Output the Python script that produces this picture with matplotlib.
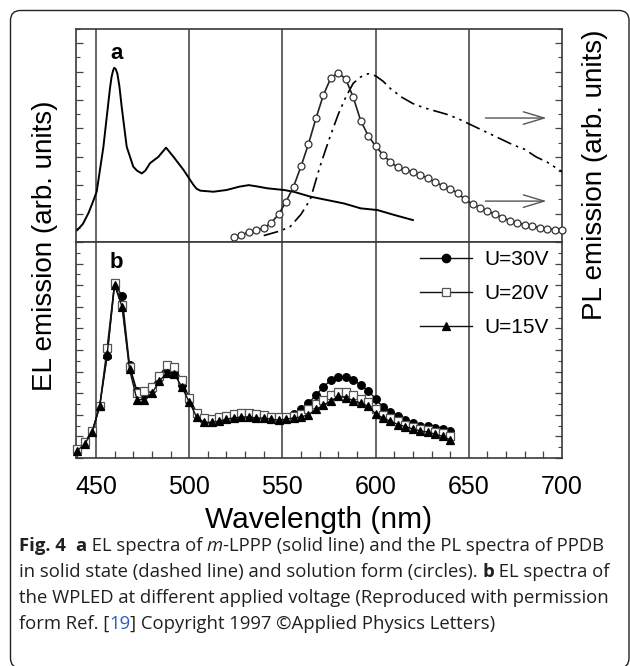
import numpy as np
import matplotlib.pyplot as plt
from matplotlib.ticker import MultipleLocator, FixedLocator
from matplotlib.patches import FancyBboxPatch

plt.rcParams['font.family'] = ['Liberation Sans', 'DejaVu Sans']

W, H = 630, 666

# ---------------- panel a ----------------
# EL spectrum of m-LPPP (solid line)
el_wl = [440, 443, 446, 448, 450.4, 452, 454, 456.6, 457.5, 458.4, 459.2, 459.8, 460.6, 461.5,
         462.6, 463.8, 466.5, 470, 472, 474.6, 476.5, 479, 483.5, 487.6, 491.6, 497, 502.3,
         504, 506, 513, 520, 527, 532, 537, 542, 551, 556, 565, 574, 583, 592, 601, 610, 620]
el_val = [0.056, 0.085, 0.136, 0.18, 0.236, 0.33, 0.447, 0.65, 0.72, 0.776, 0.805, 0.818, 0.812, 0.79,
          0.73, 0.635, 0.447, 0.354, 0.335, 0.322, 0.335, 0.37, 0.40, 0.443, 0.40, 0.338, 0.268,
          0.25, 0.241, 0.236, 0.244, 0.26, 0.267, 0.26, 0.252, 0.244, 0.236, 0.213, 0.197, 0.181,
          0.158, 0.15, 0.127, 0.103]

# PL of PPDB in solution (circles)
sol_wl = [524, 528, 532, 536, 540, 544, 548, 552, 556, 560, 564, 568, 572, 576, 580,
          584, 588, 592, 596, 600, 604, 608, 612, 616, 620, 624, 628, 632, 636, 640,
          644, 648, 652, 656, 660, 664, 668, 672, 676, 680, 684, 688, 692, 696, 700]
sol_val = [0.025, 0.035, 0.045, 0.055, 0.065, 0.09, 0.13, 0.19, 0.26, 0.355, 0.46, 0.58, 0.69, 0.77, 0.795,
           0.765, 0.68, 0.57, 0.50, 0.45, 0.41, 0.375, 0.35, 0.34, 0.33, 0.315, 0.30, 0.28, 0.265, 0.25,
           0.23, 0.20, 0.178, 0.16, 0.145, 0.13, 0.115, 0.10, 0.09, 0.082, 0.075, 0.068, 0.063, 0.058, 0.055]

# PL of PPDB in solid state (dash-dot line)
ss_wl = [540, 548, 554, 560, 565, 570, 575, 580, 584, 588, 592, 596, 600, 604, 608,
         614, 620, 626, 632, 638, 644, 650, 656, 662, 668, 674, 680, 686, 692, 700]
ss_val = [0.03, 0.05, 0.07, 0.13, 0.20, 0.35, 0.48, 0.60, 0.68, 0.745, 0.775, 0.79, 0.78, 0.755, 0.72,
          0.68, 0.65, 0.63, 0.615, 0.60, 0.58, 0.555, 0.53, 0.505, 0.48, 0.455, 0.435, 0.40, 0.375, 0.33]

arrow_y = [0.582, 0.192]

# ---------------- panel b ----------------
b_wl = [440, 444, 448, 452, 456, 460, 464, 468, 472, 476, 480, 484, 488, 492, 496, 500, 504,
        508, 512, 516, 520, 524, 528, 532, 536, 540, 544, 548, 552, 556, 560, 564, 568, 572,
        576, 580, 584, 588, 592, 596, 600, 604, 608, 612, 616, 620, 624, 628, 632, 636, 640]
u30 = [.034, .065, .12, .24, .47, .81, .75, .43, .31, .29, .32, .37, .41, .40, .34, .265, .20,
       .175, .17, .175, .185, .19, .195, .195, .19, .19, .185, .185, .19, .205, .225, .255, .29, .33,
       .36, .375, .375, .36, .34, .31, .275, .235, .215, .195, .175, .16, .15, .15, .14, .135, .125]
u20 = [.04, .075, .125, .24, .51, .81, .71, .42, .30, .31, .33, .38, .43, .42, .36, .28, .21,
       .185, .18, .19, .195, .205, .21, .21, .205, .2, .19, .19, .19, .195, .205, .225, .25, .27,
       .29, .305, .305, .29, .275, .26, .225, .2, .185, .17, .155, .145, .135, .13, .12, .115, .10]
u15 = [.034, .065, .12, .24, .48, .80, .70, .41, .27, .27, .30, .355, .395, .39, .33, .26, .19,
       .165, .165, .17, .18, .185, .19, .19, .185, .185, .18, .175, .18, .185, .19, .2, .225, .245,
       .265, .285, .28, .265, .255, .24, .205, .185, .17, .155, .145, .135, .125, .12, .11, .10, .085]
voltages = ['U=30V', 'U=20V', 'U=15V']

x_ticks = [450, 500, 550, 600, 650, 700]
grid_x = [450, 500, 550, 600, 650]

fig = plt.figure(figsize=(W / 100, H / 100), dpi=100)

# rounded frame around figure + caption
frame = FancyBboxPatch((0.105, -0.02), 6.185, 6.575, boxstyle="round,pad=0,rounding_size=0.1",
                       transform=fig.dpi_scale_trans, fill=False, ec='#222222', lw=1.0)
fig.patches.append(frame)

L, R = 76, 562
axa = fig.add_axes([L / W, 1 - 242 / H, (R - L) / W, 213 / H])
axb = fig.add_axes([L / W, 1 - 458 / H, (R - L) / W, 216 / H])

for ax in (axa, axb):
    ax.set_xlim(439.3, 700)
    ax.set_ylim(0, 1)
    for g in grid_x:
        ax.axvline(g, color='#3a3a3a', lw=1.1, zorder=1)
    for s in ax.spines.values():
        s.set_color('#3a3a3a')
        s.set_linewidth(1.2)
    ax.tick_params(axis='y', which='both', direction='in', left=True, right=True,
                   labelleft=False, color='#444444')
    ax.tick_params(axis='y', which='major', length=5, width=0.9)
    ax.tick_params(axis='y', which='minor', length=3, width=0.8)

# panel a
axa.yaxis.set_major_locator(MultipleLocator(2 / 15))
axa.yaxis.set_minor_locator(MultipleLocator(1 / 15))
axa.tick_params(axis='x', which='both', bottom=False, labelbottom=False)
axa.plot(el_wl, el_val, color='black', lw=1.4, zorder=3)
axa.plot(sol_wl, sol_val, color='#222222', lw=1.2, marker='o', ms=5, mfc='white',
         mec='#333333', mew=0.9, zorder=4, clip_on=False)
axa.plot(ss_wl, ss_val, color='black', lw=1.2, dashes=[9, 3, 1.5, 3, 1.5, 3], zorder=3)
for ya in arrow_y:
    axa.annotate('', xy=(693.2, ya), xytext=(657.4, ya),
                 arrowprops=dict(arrowstyle='->,head_length=1.5,head_width=0.45',
                                 color='#555555', lw=1.0))
axa.text(461, 0.887, 'a', fontsize=16, fontweight='bold', ha='center', va='center')

# panel b
axb.yaxis.set_major_locator(MultipleLocator(0.1))
axb.yaxis.set_minor_locator(MultipleLocator(0.05))
axb.xaxis.set_major_locator(FixedLocator(x_ticks))
axb.xaxis.set_minor_locator(MultipleLocator(10))
axb.tick_params(axis='x', which='both', direction='in', top=False, color='#444444',
                labelsize=18, pad=12)
axb.tick_params(axis='x', which='major', length=0)
axb.tick_params(axis='x', which='minor', length=5, width=0.9)

series = [(u30, 'o', 'black', 'black'), (u20, 's', 'white', '#555555'), (u15, '^', 'black', 'black')]
for (vals, mk, fc, ec), lab in zip(series, voltages):
    axb.plot(b_wl, vals, color='#111111', lw=1.0, marker=mk, ms=5.5, mfc=fc, mec=ec,
             mew=0.9, label=lab, zorder=3, clip_on=False)
axb.text(461, 0.907, 'b', fontsize=16, fontweight='bold', ha='center', va='center')
axb.legend(loc='upper left', bbox_to_anchor=((420 - L) / (R - L), 0.962), frameon=False,
           borderpad=0, borderaxespad=0, handlelength=2.5, handletextpad=0.6,
           labelspacing=0.72, fontsize=15, numpoints=1, markerscale=1.1)

# axis labels
fig.text(45 / W, 1 - 246 / H, 'EL emission (arb. units)', rotation=90, fontsize=20,
         ha='center', va='center')
fig.text(595 / W, 1 - 175 / H, 'PL emission (arb. units)', rotation=90, fontsize=20,
         ha='center', va='center')
fig.text(319 / W, 1 - 520 / H, 'Wavelength (nm)', fontsize=21.5, ha='center', va='center')

# caption, drawn as styled runs
cap_font = 'Open Sans'
cap_size = 13.3
base = dict(family=cap_font, fontsize=cap_size, color='#231f20')
bold = dict(base, fontweight='bold')
ital = dict(base, style='italic')
blue = dict(base, color='#2b5fc8')

renderer = fig.canvas.get_renderer()


def run_width(s, kw):
    t = fig.text(0, 0, '|' + s + '|', **kw)
    w1 = t.get_window_extent(renderer).width
    t.set_text('||')
    w0 = t.get_window_extent(renderer).width
    t.remove()
    return w1 - w0


def draw_line(x, y, runs):
    for s, kw in runs:
        fig.text(x / W, 1 - y / H, s, ha='left', va='baseline', **kw)
        x += run_width(s, kw)


cap_lines = [
    [('Fig. 4', bold), ('  ', base), ('a', bold), (' EL spectra of ', base), ('m', ital),
     ('-LPPP (solid line) and the PL spectra of PPDB', base)],
    [('in solid state (dashed line) and solution form (circles). ', base), ('b', bold),
     (' EL spectra of', base)],
    [('the WPLED at different applied voltage (Reproduced with permission', base)],
    [('form Ref. [', base), ('19', blue), ('] Copyright 1997 \u00a9Applied Physics Letters)', base)],
]
for i, runs in enumerate(cap_lines):
    draw_line(19, 551 + 26 * i, runs)

fig.savefig('out.png', dpi=100)
